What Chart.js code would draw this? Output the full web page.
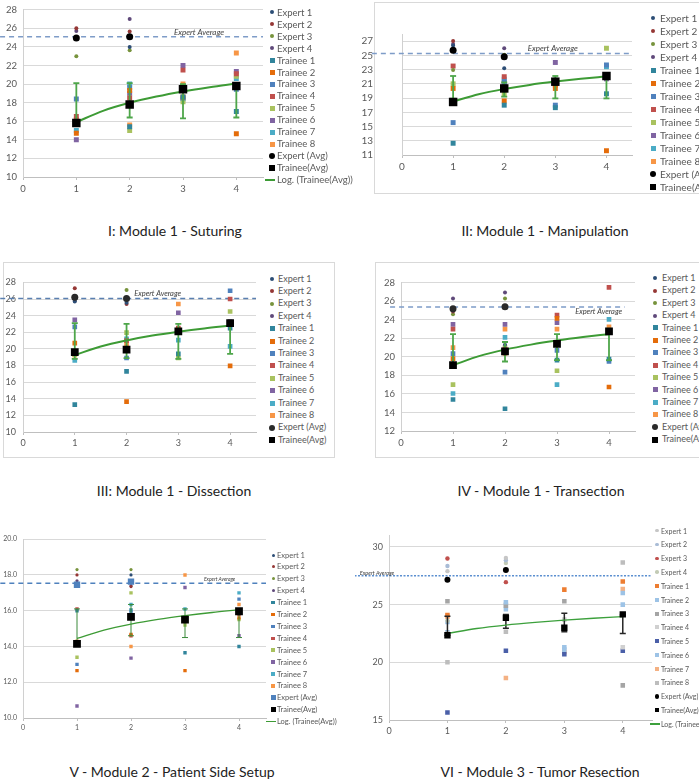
<!DOCTYPE html>
<html>
<head>
<meta charset="utf-8">
<title>Module learning curves</title>
<script src="https://cdn.jsdelivr.net/npm/chart.js@4.4.1/dist/chart.umd.min.js"></script>
<style>
  body { margin:0; width:699px; height:782px; overflow:hidden; background:#fff; position:relative; font-family:Lato, "Liberation Sans", sans-serif; }
  canvas { position:absolute; }
  .box { position:absolute; border:1px solid #d9d9d9; box-sizing:border-box; }
  .mk { position:absolute; }
  .lg { position:absolute; color:#595959; white-space:nowrap; }
  .cap { position:absolute; width:360px; text-align:center; font-size:14px; line-height:18px; color:#222; }
</style>
</head>
<body>
<script>
// sessions, names
const sessions = [1, 2, 3, 4];
const expertSessions = [1, 2];
const trendX = [1, 1.5, 2, 2.5, 3, 3.5, 4];
const xTicks = [0, 1, 2, 3, 4];
const seriesNames = ['Expert 1', 'Expert 2', 'Expert 3', 'Expert 4', 'Trainee 1', 'Trainee 2', 'Trainee 3', 'Trainee 4',
  'Trainee 5', 'Trainee 6', 'Trainee 7', 'Trainee 8', 'Expert (Avg)', 'Trainee(Avg)', 'Log. (Trainee(Avg))'];
const captions = ['I: Module 1 - Suturing', 'II: Module 1 - Manipulation', 'III: Module 1 - Dissection',
  'IV - Module 1 - Transection', 'V - Module 2 - Patient Side Setup', 'VI - Module 3 - Tumor Resection'];

// I - suturing
const sutExperts = [[25.0, 24.0], [26.0, 25.65], [23.0, 23.65], [25.7, 27.0]];
const sutTrainees = [[15.8, 15.4, 18.6, 17.05], [14.7, 19.3, 18.6, 14.65], [18.4, 19.6, 18.5, 19.45], [16.5, 18.5, 21.5, 21.1],
  [15.8, 15.0, 18.1, 20.85], [14.0, 19.0, 22.0, 21.35], [15.0, 20.0, 18.4, 20.6], [16.2, 15.6, 20.0, 23.35]];
const sutExpertAvg = [24.95, 25.1];
const sutTraineeAvg = [15.8, 17.8, 19.45, 19.8];
const sutErrLow = [15.9, 16.4, 16.3, 16.4];
const sutErrHigh = [20.1, 20.1, 20.0, 20.0];
const sutTrend = [15.9, 17.12, 17.98, 18.65, 19.2, 19.66, 20.06];
const sutExpertLine = 25.1;
const sutYTicks = [10, 12, 14, 16, 18, 20, 22, 24, 26, 28];

// II - manipulation
const manExperts = [[26.4, 23.2], [27.0, 24.9], [22.95, 25.1], [26.6, 26.0]];
const manTrainees = [[12.65, 18.0, 17.65, 19.6], [20.35, 18.6, 20.35, 11.6], [15.55, 21.3, 18.0, 23.65], [23.5, 22.0, 21.0, 22.0],
  [21.0, 19.5, 21.5, 26.0], [18.5, 20.8, 24.0, 21.7], [18.3, 21.65, 21.5, 23.4], [18.4, 21.1, 20.8, 22.1]];
const manExpertAvg = [25.7, 24.8];
const manTraineeAvg = [18.45, 20.35, 21.3, 22.1];
const manErrLow = [18.9, 19.2, 18.95, 18.95];
const manErrHigh = [22.1, 21.2, 22.1, 22.1];
const manTrend = [18.5, 19.54, 20.27, 20.85, 21.31, 21.71, 22.05];
const manExpertLine = 25.25;
const manYTicks = [11, 13, 15, 17, 19, 21, 23, 25, 27];

// III - dissection
const disExperts = [[25.7, 25.55], [27.3, 25.4], [26.0, 27.1], [25.8, 26.15]];
const disTrainees = [[13.3, 17.3, 19.4, 22.5], [20.7, 13.65, 22.3, 17.95], [22.65, 18.9, 22.0, 27.0], [19.5, 21.0, 22.5, 26.0],
  [19.3, 21.95, 18.9, 24.5], [23.5, 20.0, 24.35, 23.3], [18.6, 21.2, 21.05, 20.3], [19.25, 20.55, 25.4, 23.0]];
const disExpertAvg = [26.2, 26.05];
const disTraineeAvg = [19.6, 19.9, 22.1, 23.1];
const disErrLow = [18.8, 18.9, 18.8, 19.4];
const disErrHigh = [23.1, 23.0, 23.0, 23.0];
const disTrend = [19.25, 20.29, 21.02, 21.6, 22.06, 22.46, 22.8];
const disExpertLine = 26.05;
const disYTicks = [10, 12, 14, 16, 18, 20, 22, 24, 26, 28];

// IV - transection
const traExperts = [[25.0, 21.3], [24.9, 25.5], [24.6, 26.3], [26.3, 26.95]];
const traTrainees = [[15.4, 14.4, 19.65, 19.75], [19.8, 20.4, 24.15, 16.75], [20.35, 18.35, 20.7, 19.5], [23.0, 20.8, 24.5, 27.5],
  [17.0, 21.0, 18.5, 22.9], [23.5, 23.5, 23.7, 22.8], [16.05, 22.1, 17.0, 24.05], [21.0, 23.0, 23.0, 23.25]];
const traExpertAvg = [25.2, 25.4];
const traTraineeAvg = [19.1, 20.6, 21.4, 22.75];
const traErrLow = [18.95, 19.5, 19.65, 19.65];
const traErrHigh = [22.45, 21.6, 22.45, 22.75];
const traTrend = [19.1, 20.08, 20.78, 21.32, 21.76, 22.13, 22.45];
const traExpertLine = 25.37;
const traYTicks = [12, 14, 16, 18, 20, 22, 24, 26, 28];

// V - patient side setup
const setExperts = [[17.45, 18.0], [18.0, 17.35], [18.3, 18.3], [17.67, 17.4]];
const setTrainees = [[16.0, 16.05, 13.65, 14.0], [12.65, 14.67, 12.65, 15.6], [13.0, 15.9, 15.6, 16.65], [16.1, 14.6, 15.4, 15.8],
  [13.4, 17.0, 15.2, 15.5], [10.67, 13.35, 17.3, 14.6], [14.1, 16.35, 16.1, 17.0], [14.3, 14.0, 18.0, 16.35]];
const setExpertAvg = [17.45, 17.63];
const setTraineeAvg = [14.15, 15.65, 15.5, 15.97];
const setErrLow = [14.2, 14.6, 14.5, 14.5];
const setErrHigh = [16.1, 16.35, 16.1, 16.05];
const setTrend = [14.45, 14.92, 15.25, 15.51, 15.72, 15.9, 16.05];
const setExpertLine = 17.54;
const setYTicks = [10, 12, 14, 16, 18, 20];

// VI - tumor resection
const tumExperts = [[27.9, 29.05], [28.35, 28.85], [29.0, 26.95], [23.6, 28.6]];
const tumTrainees = [[24.1, 24.0, 26.3, 27.0], [23.5, 25.2, 21.3, 25.0], [25.3, 24.9, 25.3, 18.0], [22.5, 25.0, 23.7, 21.3],
  [15.65, 21.0, 20.7, 21.0], [22.6, 24.6, 21.1, 26.0], [23.95, 18.65, 20.9, 26.35], [20.0, 22.65, 23.0, 28.65]];
const tumExpertAvg = [27.15, 28.0];
const tumTraineeAvg = [22.35, 23.85, 23.0, 24.15];
const tumErrLow = [22.35, 22.95, 22.65, 22.5];
const tumErrHigh = [24.0, 24.15, 24.25, 24.1];
const tumTrend = [22.5, 22.93, 23.23, 23.46, 23.65, 23.82, 23.96];
const tumExpertLine = 27.5;
const tumYTicks = [15, 20, 25, 30];

// colours
const pal2010 = ['#2c4d75', '#953735', '#77933c', '#5f497a', '#31859c', '#e46c0a', '#4f81bd', '#c0504d', '#a9c25f', '#8064a2', '#4bacc6', '#f79646'];
const pal2013 = ['#c6c6c6', '#a9bcd6', '#c0504d', '#c3cbb5', '#ed7d31', '#9dc3e6', '#a5a5a5', '#d0d0d0', '#4a5fa8', '#9dc3e6', '#f4b183', '#bdbdbd'];

Chart.defaults.font.family = 'Lato';

const panels = [
  { experts: sutExperts, trainees: sutTrainees, expertAvg: sutExpertAvg, traineeAvg: sutTraineeAvg, errLow: sutErrLow, errHigh: sutErrHigh,
    trend: sutTrend, expertLine: sutExpertLine, yTicks: sutYTicks, caption: captions[0],
    canvasLeft: 0, plot: [23, 6, 263, 177], yMin: 10, yMax: 28, yPad: 6, tick: 9.5, dec: false,
    colors: pal2010, expR: 2, trR: 3.5, expAvgR: 3.5, expAvgStyle: 'circle', expAvgColor: '#000', trAvgR: 6,
    trendColor: '#3d9b35', trendW: 2, errColor: '#4ea64a', errW: 1.8, lineColor: '#7e9cc8', lineDash: [5, 4], lineFrom: -0.43, lineTo: 4.5,
    lbl: { x: 3.3, y: 25.55, size: 8, align: 'center' },
    legend: { x: 272, tx: 277, y: 12.3, step: 11.98, size: 9.5, count: 15, dot: 4, sq: 5, avg: 6 },
    capPos: [175, 231] },
  { experts: manExperts, trainees: manTrainees, expertAvg: manExpertAvg, traineeAvg: manTraineeAvg, errLow: manErrLow, errHigh: manErrHigh,
    trend: manTrend, expertLine: manExpertLine, yTicks: manYTicks, caption: captions[1],
    canvasLeft: 355, plot: [402, 7, 632, 168], yMin: 11, yMax: 28, yPad: 29, tick: 10, dec: false, box: [374, 2, 705, 194],
    colors: pal2010, expR: 2, trR: 3.5, expAvgR: 3.5, expAvgStyle: 'circle', expAvgColor: '#000', trAvgR: 6,
    trendColor: '#3d9b35', trendW: 2, errColor: '#4ea64a', errW: 1.8, lineColor: '#7e9cc8', lineDash: [5, 4], lineFrom: -0.59, lineTo: 4.5,
    lbl: { x: 2.95, y: 25.95, size: 8, align: 'center' },
    legend: { x: 653, tx: 660, y: 18.3, step: 13.0, size: 10, count: 14, dot: 4, sq: 5, avg: 6 },
    capPos: [545, 231] },
  { experts: disExperts, trainees: disTrainees, expertAvg: disExpertAvg, traineeAvg: disTraineeAvg, errLow: disErrLow, errHigh: disErrHigh,
    trend: disTrend, expertLine: disExpertLine, yTicks: disYTicks, caption: captions[2],
    canvasLeft: 0, plot: [23, 278, 256, 432], yMin: 10, yMax: 28, yPad: 7, tick: 9, dec: false, box: [3, 262, 335, 458],
    colors: pal2010, expR: 2, trR: 3.3, expAvgR: 3.5, expAvgStyle: 'circle', expAvgColor: '#2a2a2a', trAvgR: 5.5,
    trendColor: '#3d9b35', trendW: 2, errColor: '#4ea64a', errW: 1.8, lineColor: '#5a7fb0', lineDash: [5, 4], lineFrom: -0.44, lineTo: 4.5,
    lbl: { x: 2.6, y: 26.6, size: 7.5, align: 'center' },
    legend: { x: 272, tx: 278, y: 279, step: 12.4, size: 9, count: 14, dot: 4, sq: 5, avg: 6 },
    capPos: [174, 491] },
  { experts: traExperts, trainees: traTrainees, expertAvg: traExpertAvg, traineeAvg: traTraineeAvg, errLow: traErrLow, errHigh: traErrHigh,
    trend: traTrend, expertLine: traExpertLine, yTicks: traYTicks, caption: captions[3],
    canvasLeft: 375, plot: [401, 279, 635, 431], yMin: 12, yMax: 28, yPad: 6, tick: 9.5, dec: false, box: [375, 262, 705, 458],
    colors: pal2010, expR: 2, trR: 3.3, expAvgR: 3.5, expAvgStyle: 'circle', expAvgColor: '#2a2a2a', trAvgR: 5.5,
    trendColor: '#3d9b35', trendW: 2, errColor: '#4ea64a', errW: 1.8, lineColor: '#7e9cc8', lineDash: [5, 4], lineFrom: -0.21, lineTo: 4.3,
    lbl: { x: 3.8, y: 24.85, size: 7.5, align: 'center' },
    legend: { x: 655, tx: 662, y: 278.3, step: 12.4, size: 9, count: 14, dot: 4, sq: 5, avg: 6 },
    capPos: [541, 491] },
  { experts: setExperts, trainees: setTrainees, expertAvg: setExpertAvg, traineeAvg: setTraineeAvg, errLow: setErrLow, errHigh: setErrHigh,
    trend: setTrend, expertLine: setExpertLine, yTicks: setYTicks, caption: captions[4],
    canvasLeft: 0, plot: [23, 537, 266, 718], yMin: 10, yMax: 20, yPad: 6, tick: 7, dec: true,
    colors: pal2010, expR: 1.6, trR: 2.4, expAvgR: 4.5, expAvgStyle: 'rect', expAvgColor: '#4f81bd', trAvgR: 5.5,
    trendColor: '#3d9b35', trendW: 1.3, errColor: '#3a8a3a', errW: 1, lineColor: '#4f81bd', lineDash: [5, 4], lineFrom: -0.42, lineTo: 4.5,
    lbl: { x: 3.64, y: 17.78, size: 5, align: 'center' },
    legend: { x: 273, tx: 277, y: 555, step: 11.9, size: 7.5, count: 15, dot: 3, sq: 3.5, avg: 5 },
    capPos: [172, 772] },
  { experts: tumExperts, trainees: tumTrainees, expertAvg: tumExpertAvg, traineeAvg: tumTraineeAvg, errLow: tumErrLow, errHigh: tumErrHigh,
    trend: tumTrend, expertLine: tumExpertLine, yTicks: tumYTicks, caption: captions[5],
    canvasLeft: 355, plot: [389, 532, 652, 720], yMin: 15, yMax: 31, yPad: 6, tick: 9, dec: false,
    colors: pal2013, expR: 2.2, trR: 3.2, expAvgR: 3, expAvgStyle: 'circle', expAvgColor: '#000', trAvgR: 4.5,
    trendColor: '#3ca03c', trendW: 1.3, errColor: '#262626', errW: 1.5, lineColor: '#5b8fd0', lineDash: [2, 1.5], lineFrom: -0.59, lineTo: 4.5,
    lbl: { x: -0.5, y: 27.75, size: 5.5, align: 'left' },
    legend: { x: 657, tx: 661, y: 530.7, step: 13.8, size: 7, count: 15, dot: 3.5, sq: 4, avg: 4.5 },
    capPos: [540, 772] }
];

function makePanel(p) {
  if (p.box) {
    const b = document.createElement('div');
    b.className = 'box';
    Object.assign(b.style, { left: p.box[0] + 'px', top: p.box[1] + 'px', width: (p.box[2] - p.box[0]) + 'px', height: (p.box[3] - p.box[1]) + 'px' });
    document.body.appendChild(b);
  }
  const L = p.canvasLeft, T = p.plot[1] - 8;
  const W = p.plot[2] + 6 - L, H = p.plot[3] + 22 - T;
  const cv = document.createElement('canvas');
  cv.width = W; cv.height = H;
  Object.assign(cv.style, { left: L + 'px', top: T + 'px', width: W + 'px', height: H + 'px' });
  document.body.appendChild(cv);

  const ds = [];
  p.experts.forEach((vals, i) => ds.push({ label: seriesNames[i], data: expertSessions.map((x, j) => ({ x, y: vals[j] })),
    pointStyle: 'circle', pointRadius: p.expR, pointBorderWidth: 0, backgroundColor: p.colors[i], order: 5 }));
  p.trainees.forEach((vals, i) => ds.push({ label: seriesNames[i + 4], data: sessions.map((x, j) => ({ x, y: vals[j] })),
    pointStyle: 'rect', pointRadius: p.trR, pointBorderWidth: 0, backgroundColor: p.colors[i + 4], order: 5 }));
  // error bars, one per session
  sessions.forEach((x, j) => ds.push({ label: 'err', data: [{ x, y: p.errLow[j] }, { x, y: p.errHigh[j] }], showLine: true,
    borderColor: p.errColor, borderWidth: p.errW, pointStyle: 'line', pointRadius: 3, pointBorderColor: p.errColor,
    pointBorderWidth: p.errW, order: 3 }));
  ds.push({ label: seriesNames[14], data: trendX.map((x, j) => ({ x, y: p.trend[j] })), showLine: true, pointRadius: 0,
    borderColor: p.trendColor, borderWidth: p.trendW, cubicInterpolationMode: 'monotone', order: 2 });
  ds.push({ label: seriesNames[12], data: expertSessions.map((x, j) => ({ x, y: p.expertAvg[j] })), pointStyle: p.expAvgStyle,
    pointRadius: p.expAvgR, pointBorderWidth: 0, backgroundColor: p.expAvgColor, order: 0 });
  ds.push({ label: seriesNames[13], data: sessions.map((x, j) => ({ x, y: p.traineeAvg[j] })), pointStyle: 'rect',
    pointRadius: p.trAvgR, pointBorderWidth: 0, backgroundColor: '#000', order: 1 });
  ds.push({ label: 'Expert Average', data: [{ x: p.lineFrom, y: p.expertLine }, { x: p.lineTo, y: p.expertLine }], showLine: true,
    pointRadius: 0, borderColor: p.lineColor, borderWidth: 1.5, borderDash: p.lineDash, clip: false, order: 6 });

  const avgLabel = {
    id: 'avgLabel',
    afterDatasetsDraw(chart) {
      const { ctx, scales } = chart;
      ctx.save();
      ctx.font = `italic ${p.lbl.size}px Lato`;
      ctx.fillStyle = '#404040';
      ctx.textAlign = p.lbl.align;
      ctx.textBaseline = 'middle';
      ctx.fillText('Expert Average', scales.x.getPixelForValue(p.lbl.x), scales.y.getPixelForValue(p.lbl.y));
      ctx.restore();
    }
  };

  new Chart(cv, {
    type: 'scatter',
    data: { datasets: ds },
    options: {
      responsive: false, animation: false, devicePixelRatio: 1,
      layout: { padding: { left: 0, top: 8, right: 6, bottom: 0 } },
      plugins: { legend: { display: false }, tooltip: { enabled: false } },
      scales: {
        x: { type: 'linear', min: 0, max: 4.5,
          afterBuildTicks: sc => { sc.ticks = xTicks.map(v => ({ value: v })); },
          afterFit: sc => { sc.height = 22; },
          grid: { drawOnChartArea: false, color: '#bfbfbf', tickLength: 3 },
          border: { color: '#bfbfbf' },
          ticks: { color: '#595959', font: { size: p.tick }, padding: 3 } },
        y: { type: 'linear', min: p.yMin, max: p.yMax,
          afterBuildTicks: sc => { sc.ticks = p.yTicks.map(v => ({ value: v })); },
          afterFit: sc => { sc.width = p.plot[0] - L; },
          grid: { color: '#d9d9d9', drawTicks: false },
          border: { color: '#d0d0d0' },
          ticks: { color: '#595959', font: { size: p.tick }, padding: p.yPad, callback: v => p.dec ? v.toFixed(1) : v } }
      }
    },
    plugins: [avgLabel]
  });

  // legend
  const g = p.legend;
  for (let i = 0; i < g.count; i++) {
    const cy = g.y + i * g.step;
    let w, h, bg, rad = '0', mx = g.x;
    if (i < 4) { w = h = g.dot; bg = p.colors[i]; rad = '50%'; }
    else if (i < 12) { w = h = g.sq; bg = p.colors[i]; }
    else if (i === 12) { w = h = g.avg; bg = p.expAvgColor; rad = p.expAvgStyle === 'circle' ? '50%' : '0'; }
    else if (i === 13) { w = h = g.avg; bg = '#000'; }
    else { w = 10; h = 1.6; bg = p.trendColor; mx = g.x - 2; }
    const m = document.createElement('div');
    m.className = 'mk';
    Object.assign(m.style, { left: (mx - w / 2) + 'px', top: (cy - h / 2) + 'px', width: w + 'px', height: h + 'px', background: bg, borderRadius: rad });
    document.body.appendChild(m);
    const t = document.createElement('div');
    t.className = 'lg';
    t.textContent = seriesNames[i];
    Object.assign(t.style, { left: g.tx + 'px', top: (cy - g.size * 0.6) + 'px', fontSize: g.size + 'px', lineHeight: (g.size * 1.2) + 'px' });
    document.body.appendChild(t);
  }

  const c = document.createElement('div');
  c.className = 'cap';
  c.textContent = p.caption;
  Object.assign(c.style, { left: (p.capPos[0] - 180) + 'px', top: (p.capPos[1] - 9) + 'px' });
  document.body.appendChild(c);
}

panels.forEach(makePanel);
</script>
</body>
</html>
